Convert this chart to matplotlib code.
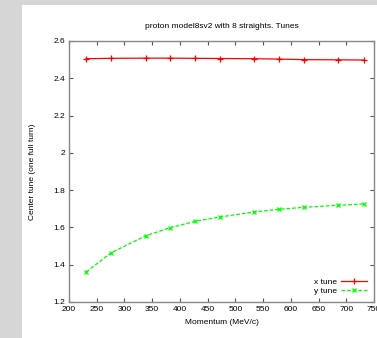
import matplotlib
matplotlib.use("Agg")
import matplotlib.pyplot as plt
from matplotlib.patches import Rectangle

# momentum (MeV/c) and tunes
momentum = [231, 276, 338, 382, 428, 472, 534, 578, 624, 685, 732]
x_tune = [2.505, 2.507, 2.508, 2.508, 2.507, 2.506, 2.505, 2.503, 2.500, 2.499, 2.498]
y_tune = [1.361, 1.464, 1.555, 1.598, 1.633, 1.656, 1.683, 1.697, 1.708, 1.719, 1.726]

xticks = [200, 250, 300, 350, 400, 450, 500, 550, 600, 650, 700, 750]
yticks = [1.2, 1.4, 1.6, 1.8, 2.0, 2.2, 2.4, 2.6]
ytick_labels = ['1.2', '1.4', '1.6', '1.8', '2', '2.2', '2.4', '2.6']

plt.rcParams['font.family'] = ['Liberation Sans', 'DejaVu Sans']

fig = plt.figure(figsize=(3.77, 3.38), dpi=100)
fig.set_facecolor('#d6d6d6')
# white page on top of the grey slide background
fig.patches.append(Rectangle((22 / 377, 0), 1, 333 / 338, transform=fig.transFigure,
                             facecolor='white', edgecolor='none', zorder=-1))

ax = fig.add_axes([69 / 377, 36 / 338, 305 / 377, 261 / 338])
ax.set_zorder(2)
ax.set_facecolor('white')

ax.plot(momentum, x_tune, color='#ff0000', lw=0.9, marker='+', ms=5, mew=0.9, label='x tune')
ax.plot(momentum, y_tune, color='#00ff00', lw=0.9, ls=(0, (3, 1.5)), marker='x', ms=3.5, mew=0.9,
        label='y tune')

ax.set_xlim(200, 750)
ax.set_ylim(1.2, 2.6)
ax.set_xticks(xticks)
ax.set_yticks(yticks)
ax.set_yticklabels(ytick_labels)
ax.tick_params(direction='in', top=True, right=True, length=3, width=0.8, color='#555555',
               labelsize=6, pad=3)

for s in ax.spines.values():
    s.set_color('#888888')
    s.set_linewidth(1)

ax.set_title('proton model8sv2 with 8 straights. Tunes', fontsize=6, pad=9)
ax.set_xlabel('Momentum (MeV/c)', fontsize=6, labelpad=4)
ax.set_ylabel('Center tune (one full turn)', fontsize=6, labelpad=12)

ax.legend(loc='lower right', frameon=False, markerfirst=False, fontsize=6,
          handlelength=3.2, handletextpad=0.5, labelspacing=0.15, borderaxespad=0.4)

fig.savefig('out.png', dpi=100)
